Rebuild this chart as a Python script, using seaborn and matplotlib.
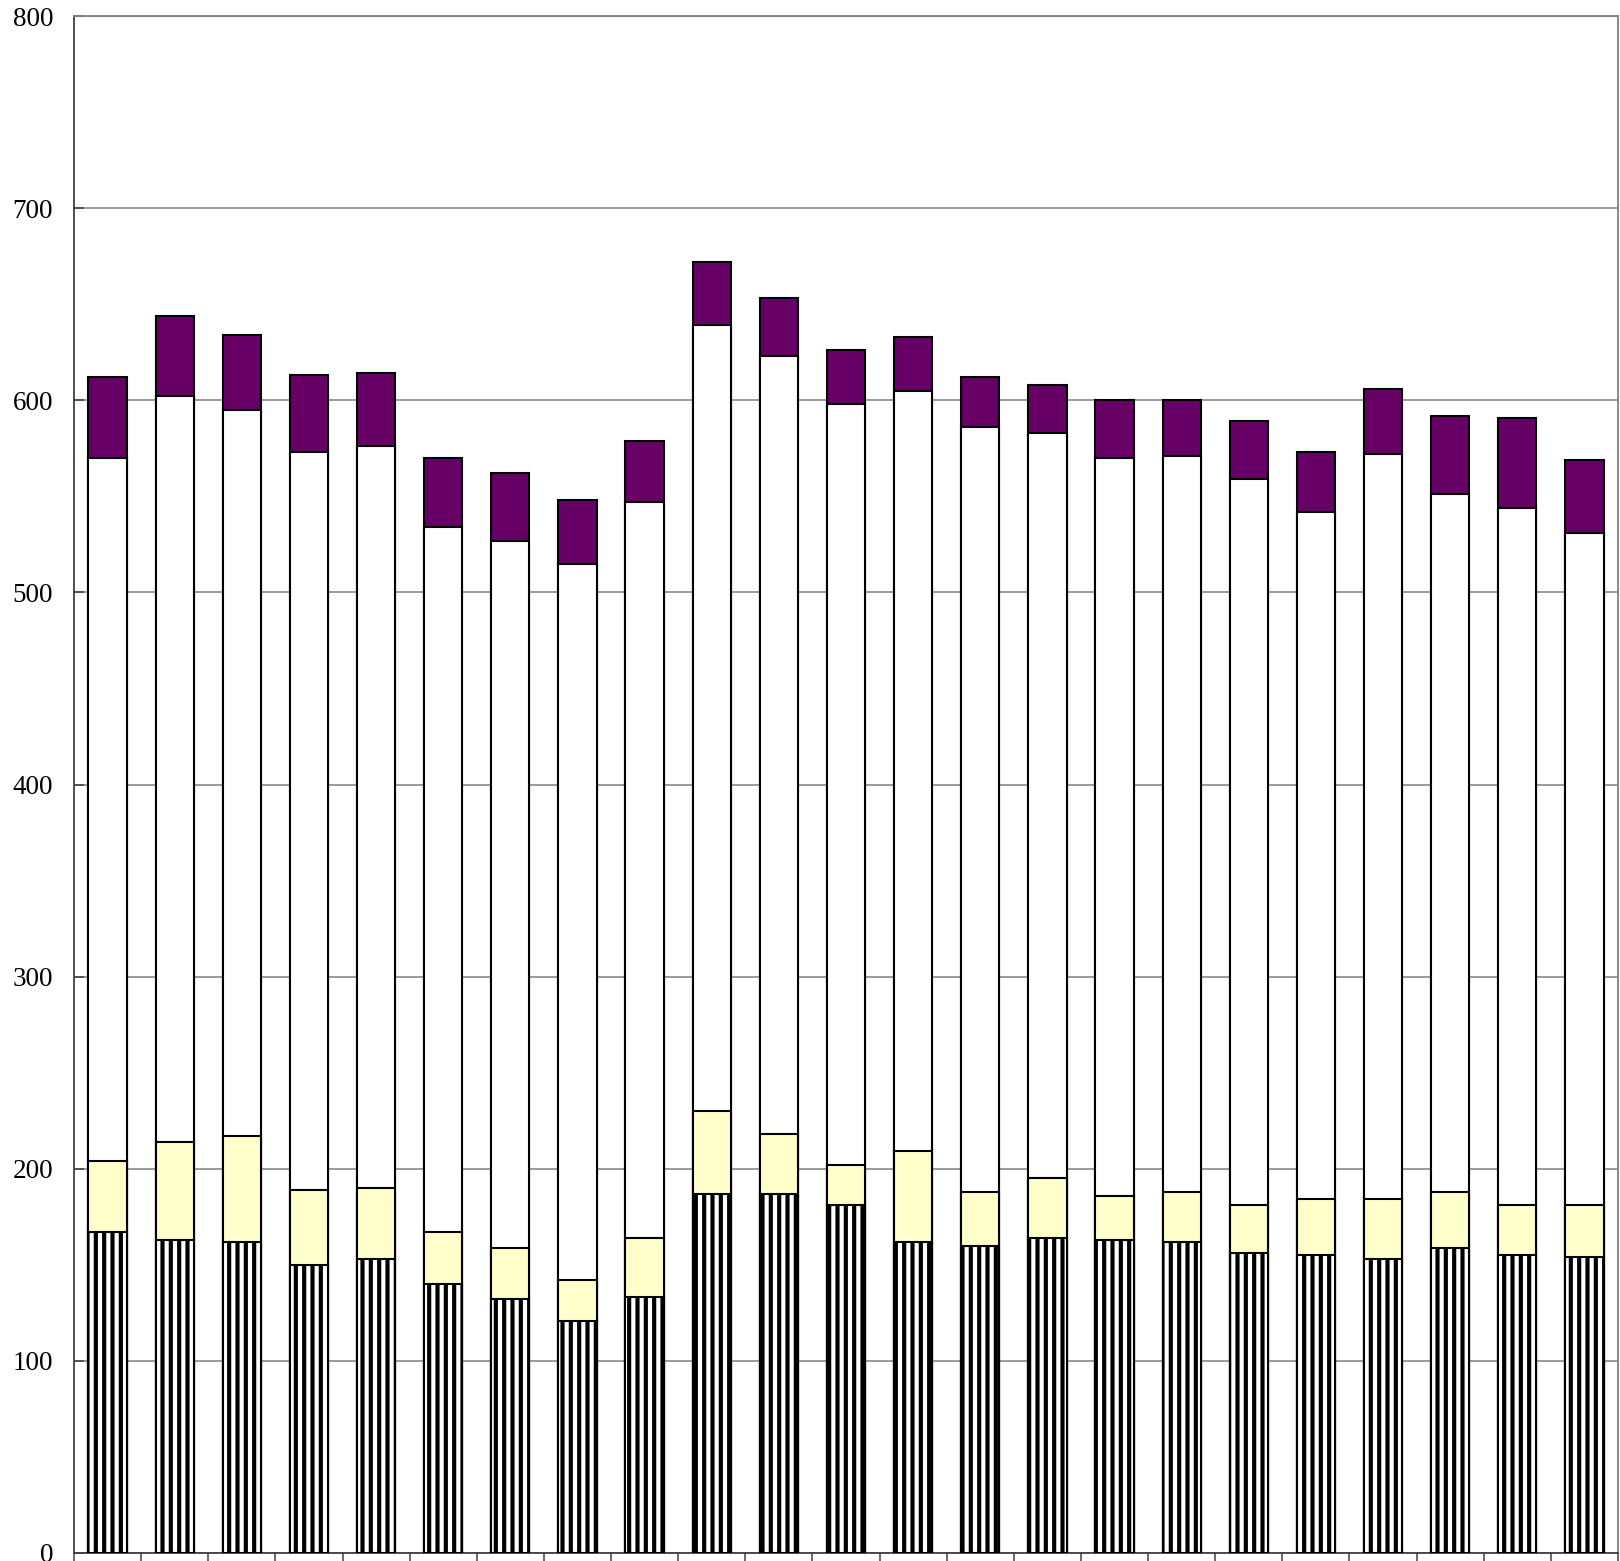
import numpy as np
import pandas as pd
import matplotlib
matplotlib.use("Agg")
import matplotlib.pyplot as plt
import seaborn as sns

# Category labels (not shown on the axis)
categories = [str(i) for i in range(1, 24)]

# Stacked segment values, bottom to top
seg_hatched = [167, 163, 162, 150, 153, 140, 132, 121, 133, 187, 187, 181,
               162, 160, 164, 163, 162, 156, 155, 153, 159, 155, 154]
seg_yellow = [37, 51, 55, 39, 37, 27, 27, 21, 31, 43, 31, 21,
              47, 28, 31, 23, 26, 25, 29, 31, 29, 26, 27]
seg_white = [366, 388, 378, 384, 386, 367, 368, 373, 383, 409, 405, 396,
             396, 398, 388, 384, 383, 378, 358, 388, 363, 363, 350]
seg_purple = [42, 42, 39, 40, 38, 36, 35, 33, 32, 33, 30, 28,
              28, 26, 25, 30, 29, 30, 31, 34, 41, 47, 38]

y_ticks = [0, 100, 200, 300, 400, 500, 600, 700, 800]

plt.rcParams["font.family"] = ["Liberation Serif", "DejaVu Serif"]
plt.rcParams["hatch.linewidth"] = 3.0
plt.rcParams["hatch.color"] = "black"

df = pd.DataFrame({
    "cat": categories,
    "s1": seg_hatched,
    "s2": seg_yellow,
    "s3": seg_white,
    "s4": seg_purple,
})
df["c1"] = df["s1"]
df["c2"] = df["c1"] + df["s2"]
df["c3"] = df["c2"] + df["s3"]
df["c4"] = df["c3"] + df["s4"]

fig = plt.figure(figsize=(16.2, 15.61), dpi=100)
ax = fig.add_axes([74 / 1620, 8 / 1561, 1544 / 1620, 1537 / 1561])

common = dict(width=0.57, edgecolor="black", linewidth=1.5, saturation=1,
              order=categories, ax=ax, zorder=3)

# Draw cumulative totals from the top layer down so each layer sits above the next
sns.barplot(data=df, x="cat", y="c4", color="#660066", **common)
sns.barplot(data=df, x="cat", y="c3", color="white", **common)
sns.barplot(data=df, x="cat", y="c2", color="#FFFFCC", **common)
sns.barplot(data=df, x="cat", y="c1", color="white", hatch="||", **common)

ax.set_xlim(-0.5, len(categories) - 0.5)
ax.set_ylim(0, 800)
ax.set_yticks(y_ticks)
ax.set_yticklabels([str(v) for v in y_ticks], fontsize=19.5)
ax.set_xticks(np.arange(-0.5, len(categories), 1.0))
ax.set_xticklabels([])
ax.set_xlabel("")
ax.set_ylabel("")

ax.yaxis.grid(True, color="#808080", linewidth=1.1, zorder=0)
ax.set_axisbelow(True)

ax.tick_params(axis="y", direction="in", length=7, width=1.1, color="#404040", pad=15)
ax.tick_params(axis="x", direction="out", length=7, width=1.1, color="#404040")

for side in ("left", "bottom"):
    ax.spines[side].set_color("#404040")
    ax.spines[side].set_linewidth(1.3)
for side in ("top", "right"):
    ax.spines[side].set_color("#808080")
    ax.spines[side].set_linewidth(1.3)

fig.savefig("out.png", dpi=100)
